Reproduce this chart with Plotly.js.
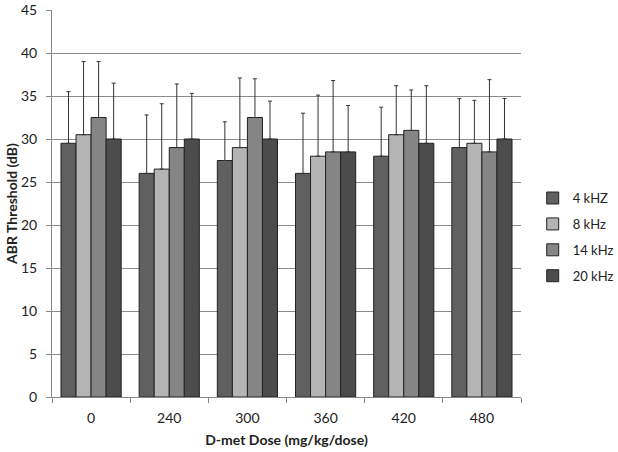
<!DOCTYPE html>
<html><head><meta charset="utf-8">
<script src="https://cdn.plot.ly/plotly-3.0.1.min.js"></script>
<style>html,body{margin:0;padding:0;background:#fff}#c{width:618px;height:452px}</style>
</head><body><div id="c"></div>
<script>
const doses = ["0","240","300","360","420","480"];
const seriesNames = ["4 kHZ","8 kHz","14 kHz","20 kHz"];
const v4 = [29.5, 26, 27.5, 26, 28, 29];
const v8 = [30.5, 26.5, 29, 28, 30.5, 29.5];
const v14 = [32.5, 29, 32.5, 28.5, 31, 28.5];
const v20 = [30, 30, 30, 28.5, 29.5, 30];
const e4 = [6, 6.8, 4.5, 7, 5.7, 5.7];
const e8 = [8.5, 7.6, 8.1, 7.1, 5.7, 5];
const e14 = [6.5, 7.4, 4.5, 8.3, 4.7, 8.4];
const e20 = [6.5, 5.3, 4.4, 5.4, 6.7, 4.7];
const colors = ["#606060","#b4b4b4","#858585","#4c4c4c"];
const vals = [v4, v8, v14, v20];
const errs = [e4, e8, e14, e20];
const traces = vals.map((v, i) => ({
  type: "bar", x: doses, y: v, name: seriesNames[i], legendgroup: "g"+i,
  marker: {color: colors[i], line: {color: "#222", width: 1}},
  error_y: {type: "data", symmetric: false, array: errs[i], arrayminus: v.map(() => 0),
            color: "#333", thickness: 1, width: 2}
}));
const font = "Lato, 'Liberation Sans', sans-serif";
Plotly.newPlot("c", traces, {
  width: 618, height: 452,
  margin: {l: 52, r: 97, t: 10, b: 55},
  paper_bgcolor: "#fff", plot_bgcolor: "#fff",
  barmode: "group", bargap: 0.23, bargroupgap: 0,
  font: {family: font, size: 14, color: "#222"},
  xaxis: {type: "category", showline: true, linecolor: "#888", ticks: "outside", tickson: "boundaries",
          ticklen: 5, tickcolor: "#888", showgrid: false, ticklabelstandoff: 8, automargin: false,
          title: {text: "<b>D-met Dose (mg/kg/dose)</b>", font: {size: 14}, standoff: 10}},
  yaxis: {range: [0, 45], dtick: 5, showline: true, linecolor: "#888", ticks: "outside", ticklen: 5,
          tickcolor: "#888", gridcolor: "#8c8c8c", gridwidth: 1, zeroline: false, ticklabelstandoff: 6,
          automargin: false,
          title: {text: "<b>ABR Threshold (dB)</b>", font: {size: 14}, standoff: 0}},
  legend: {xref: "container", yref: "container", x: 0.862, y: 0.595, xanchor: "left", yanchor: "top",
           tracegroupgap: 6, font: {size: 13}, bgcolor: "rgba(0,0,0,0)", itemwidth: 30},
  showlegend: true
}, {staticPlot: true});
</script></body></html>
